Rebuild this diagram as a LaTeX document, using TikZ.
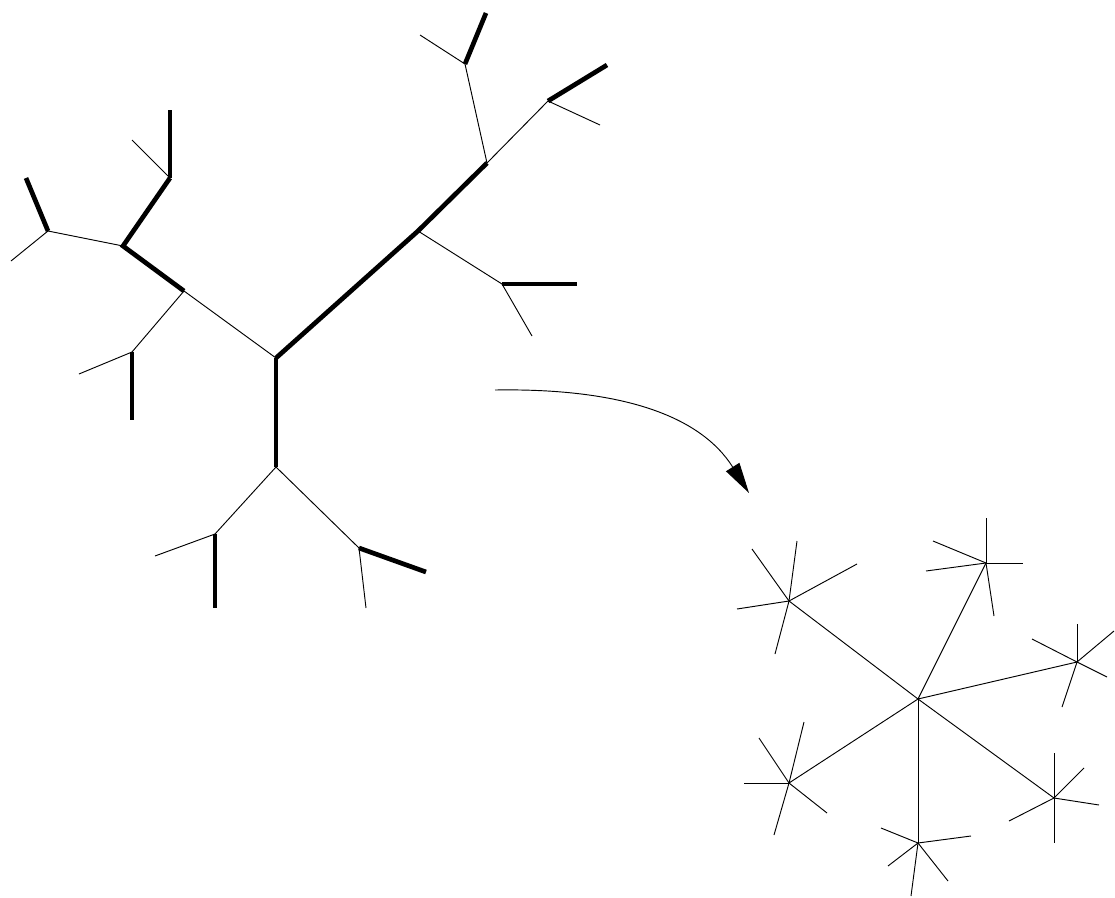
\documentclass[tikz,border=0pt]{standalone}
\usetikzlibrary{arrows.meta}
\tikzset{
  thinedge/.style={line width=0.8pt},
  thickedge/.style={line width=4pt},
}
\begin{document}
\begin{tikzpicture}[x=0.03cm,y=-0.03cm]
  \useasboundingbox (0,0) rectangle (1115,898);
  % rooted tree, inner vertices
  \coordinate (root) at (276,358);
  \coordinate (l2) at (184,291);
  \coordinate (l1) at (123,246);
  \coordinate (m) at (418,231);
  \coordinate (n) at (487,163);
  \coordinate (g) at (276,467);
  % vertices above the leaves
  \coordinate (a) at (48,231);
  \coordinate (b) at (170,178);
  \coordinate (c) at (132,352);
  \coordinate (d) at (502,284);
  \coordinate (e) at (465,64);
  \coordinate (f) at (548,101);
  \coordinate (h) at (215,534);
  \coordinate (i) at (359,548);
  % leaves
  \coordinate (a1) at (26,178);  \coordinate (a2) at (11,261);
  \coordinate (b1) at (170,110); \coordinate (b2) at (132,140);
  \coordinate (c1) at (132,420); \coordinate (c2) at (79,374);
  \coordinate (d1) at (577,284); \coordinate (d2) at (532,336);
  \coordinate (e1) at (486,13);  \coordinate (e2) at (420,35);
  \coordinate (f1) at (607,65);  \coordinate (f2) at (600,125);
  \coordinate (h1) at (215,608); \coordinate (h2) at (155,556);
  \coordinate (i1) at (426,572); \coordinate (i2) at (366,608);
  % thick path edges
  \draw[thickedge] (root) -- (m) -- (n);
  \draw[thickedge] (root) -- (g);
  \draw[thickedge] (l2) -- (l1) -- (b);
  \foreach \v in {a,b,c,d,e,f,h,i}
    \draw[thickedge] (\v) -- (\v1);
  % thin edges
  \draw[thinedge] (root) -- (l2) -- (c);
  \draw[thinedge] (l1) -- (a);
  \draw[thinedge] (m) -- (d);
  \draw[thinedge] (n) -- (e);
  \draw[thinedge] (n) -- (f);
  \draw[thinedge] (g) -- (h);
  \draw[thinedge] (g) -- (i);
  \foreach \v in {a,b,c,d,e,f,h,i}
    \draw[thinedge] (\v) -- (\v2);
  % the arrow
  \coordinate (arrstart) at (495,390);
  \coordinate (arrend) at (749,493);
  \draw[thinedge,-{Triangle[length=0.92cm,width=0.47cm]}] (arrstart) .. controls (620,388) and (700,415) .. (arrend);
  % star
  \coordinate (ctr) at (918,699);
  \coordinate (s1) at (789,601);
  \coordinate (s2) at (986,563);
  \coordinate (s3) at (1077,662);
  \coordinate (s4) at (1054,798);
  \coordinate (s5) at (918,843);
  \coordinate (s6) at (789,783);
  \foreach \s in {s1,s2,s3,s4,s5,s6}
    \draw[thinedge] (ctr) -- (\s);
  \foreach \s/\pts in {s1/{752/549,797/541,857/564,737/609,775/654},
                       s2/{986/518,1023/563,933/541,926/571,994/616},
                       s3/{1077/624,1114/631,1032/639,1107/677,1062/707},
                       s4/{1054/753,1084/768,1099/805,1054/843,1009/821},
                       s5/{971/836,881/828,888/866,948/881,911/896},
                       s6/{759/738,804/722,744/783,827/813,774/835}}
    \foreach \x/\y [count=\k] in \pts {
      \coordinate (\s e\k) at (\x,\y);
      \draw[thinedge] (\s) -- (\s e\k);
    }
\end{tikzpicture}
\end{document}
